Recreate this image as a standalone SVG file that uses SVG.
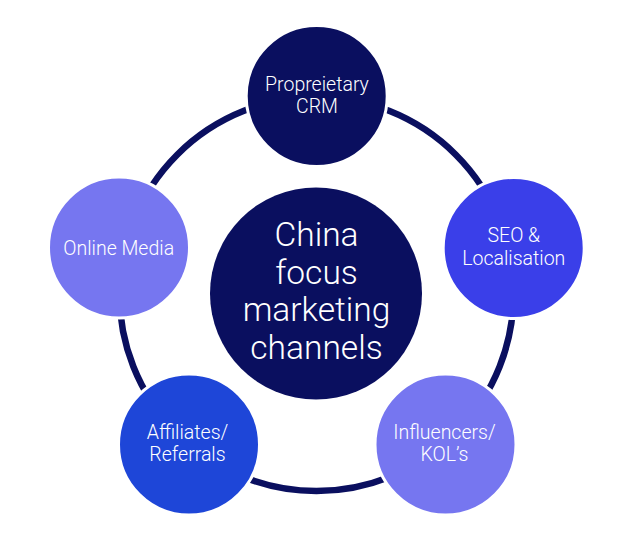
<svg xmlns="http://www.w3.org/2000/svg" width="634" height="540" viewBox="0 0 634 540">
  <style>
    .node { stroke: #ffffff; stroke-width: 3; }
    .navy { fill: #0a0f5f; }
    .blue { fill: #3a3fe9; }
    .royal { fill: #1e46d8; }
    .lavender { fill: #7676f0; }
    .label { font-family: Roboto, "Liberation Sans", sans-serif; font-size: 19.5px; font-weight: 300; fill: #ffffff; text-anchor: middle; }
    .title { font-family: Roboto, "Liberation Sans", sans-serif; font-size: 33.5px; font-weight: 300; fill: #ffffff; text-anchor: middle; }
  </style>
  <rect width="634" height="540" fill="#ffffff"/>

  <!-- connecting ring behind the channel nodes -->
  <g id="connectors">
    <circle cx="316.5" cy="294" r="197" fill="none" stroke="#0a0f5f" stroke-width="6.5"/>
  </g>

  <g id="center">
    <circle class="navy" cx="316" cy="293.5" r="106"/>
    <text class="title" x="316.5" y="246">China</text>
    <text class="title" x="316.5" y="283.5">focus</text>
    <text class="title" x="316.5" y="321">marketing</text>
    <text class="title" x="316.5" y="358.5">channels</text>
  </g>

  <g id="crm">
    <circle class="node navy" cx="316.7" cy="96" r="70.5"/>
    <text class="label" x="317" y="90.5">Propreietary</text>
    <text class="label" x="317" y="113">CRM</text>
  </g>

  <g id="seo">
    <circle class="node blue" cx="513.7" cy="248" r="70.5"/>
    <text class="label" x="513.8" y="242.3">SEO &amp;</text>
    <text class="label" x="513.8" y="264.7">Localisation</text>
  </g>

  <g id="influencers">
    <circle class="node lavender" cx="445.5" cy="444.5" r="70.5"/>
    <text class="label" x="444.5" y="438.5">Influencers/</text>
    <text class="label" x="444.5" y="460.8">KOL’s</text>
  </g>

  <g id="affiliates">
    <circle class="node royal" cx="189" cy="444.5" r="70.5"/>
    <text class="label" x="187.5" y="438.5">Affiliates/</text>
    <text class="label" x="187.5" y="460.8">Referrals</text>
  </g>

  <g id="online-media">
    <circle class="node lavender" cx="119" cy="247.5" r="70.5"/>
    <text class="label" x="118.7" y="255">Online Media</text>
  </g>
</svg>
